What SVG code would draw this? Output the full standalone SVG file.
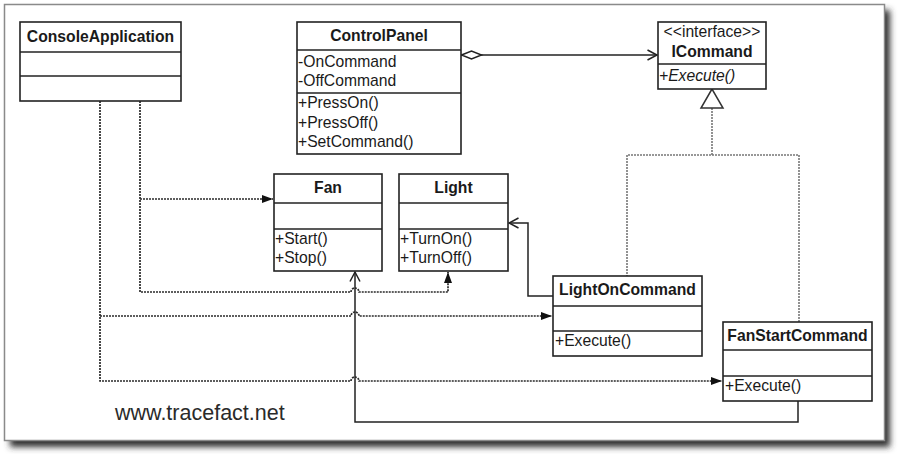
<svg xmlns="http://www.w3.org/2000/svg" width="900" height="454" viewBox="0 0 900 454">
<style>
text{font-family:"Liberation Sans",Arial,sans-serif;font-size:15.7px;fill:#1a1a1a}
.b{font-weight:bold;text-anchor:middle}
.i{font-style:italic}
.box{fill:#fff;stroke:#222;stroke-width:1.6}
.sep{stroke:#222;stroke-width:1.6}
.dep{fill:none;stroke:#2a2a2a;stroke-width:1.7;stroke-dasharray:2 1}
.real{fill:none;stroke:#777;stroke-width:1.6;stroke-dasharray:2 1}
.assoc{fill:none;stroke:#222;stroke-width:1.5}
</style>
<defs>
<filter id="sh" x="-5%" y="-5%" width="110%" height="110%"><feGaussianBlur stdDeviation="3"/></filter>
<marker id="fa" viewBox="0 0 11 8" refX="11" refY="4" markerWidth="11" markerHeight="8" markerUnits="userSpaceOnUse" orient="auto"><path d="M0,0 L11,4 L0,8 z" fill="#111"/></marker>
<marker id="oa" viewBox="0 0 10 12" refX="9.5" refY="6" markerWidth="10" markerHeight="12" markerUnits="userSpaceOnUse" orient="auto" overflow="visible"><path d="M0,1 L9.5,6 L0,11" fill="none" stroke="#222" stroke-width="1.5"/></marker>
<marker id="dm" viewBox="0 0 21 10" refX="0" refY="5" markerWidth="21" markerHeight="10" markerUnits="userSpaceOnUse" orient="auto" overflow="visible"><path d="M0.5,5 L10.5,1 L20.5,5 L10.5,9 z" fill="#fff" stroke="#222" stroke-width="1.5"/></marker>
</defs>
<rect x="10" y="10" width="880" height="437" fill="#333" filter="url(#sh)"/>
<rect x="4.5" y="4.5" width="880" height="436" fill="#fff" stroke="#8a8a8a" stroke-width="1.5"/>

<g id="connectors">
<path class="assoc" d="M461,55 H657" marker-start="url(#dm)" marker-end="url(#oa)"/>
<path class="real" d="M712,108 V155 H627 V276 M712,155 H799 V322"/>
<polygon points="712,89 701,108 723,108" fill="#fff" stroke="#333" stroke-width="1.5"/>
<path class="dep" d="M140,101 V292 H351 A4,4 0 0 1 359,292 H448 V272" marker-end="url(#fa)"/>
<path class="dep" d="M140,199 H273" marker-end="url(#fa)"/>
<path class="dep" d="M100,101 V381 H351 A4,4 0 0 1 359,381 H722" marker-end="url(#fa)"/>
<path class="dep" d="M100,316 H351 A4,4 0 0 1 359,316 H552" marker-end="url(#fa)"/>
<path class="assoc" d="M553,296 H528 V223 H509" marker-end="url(#oa)"/>
<path class="assoc" d="M798,401 V422 H355 V272" marker-end="url(#oa)"/>
</g>

<g id="ConsoleApplication">
<rect class="box" x="20" y="22" width="161" height="79"/>
<line class="sep" x1="20" y1="52" x2="181" y2="52"/>
<line class="sep" x1="20" y1="76" x2="181" y2="76"/>
<text class="b" x="100.5" y="42">ConsoleApplication</text>
</g>

<g id="ControlPanel">
<rect class="box" x="297" y="22" width="164" height="132"/>
<line class="sep" x1="297" y1="50" x2="461" y2="50"/>
<line class="sep" x1="297" y1="93" x2="461" y2="93"/>
<text class="b" x="379" y="41">ControlPanel</text>
<text x="298" y="67">-OnCommand</text>
<text x="298" y="86">-OffCommand</text>
<text x="298" y="108">+PressOn()</text>
<text x="298" y="128">+PressOff()</text>
<text x="298" y="147">+SetCommand()</text>
</g>

<g id="ICommand">
<rect class="box" x="658" y="22" width="108" height="67"/>
<line class="sep" x1="658" y1="64" x2="766" y2="64"/>
<text x="712" y="37" text-anchor="middle">&lt;&lt;interface&gt;&gt;</text>
<text class="b" x="712" y="57">ICommand</text>
<text class="i" x="659" y="81">+Execute()</text>
</g>

<g id="Fan">
<rect class="box" x="274" y="174" width="108" height="97"/>
<line class="sep" x1="274" y1="203" x2="382" y2="203"/>
<line class="sep" x1="274" y1="229" x2="382" y2="229"/>
<text class="b" x="328" y="193">Fan</text>
<text x="275" y="244">+Start()</text>
<text x="275" y="263">+Stop()</text>
</g>

<g id="Light">
<rect class="box" x="399" y="174" width="109" height="97"/>
<line class="sep" x1="399" y1="203" x2="508" y2="203"/>
<line class="sep" x1="399" y1="229" x2="508" y2="229"/>
<text class="b" x="453.5" y="193">Light</text>
<text x="400" y="244">+TurnOn()</text>
<text x="400" y="263">+TurnOff()</text>
</g>

<g id="LightOnCommand">
<rect class="box" x="553" y="276" width="149" height="80"/>
<line class="sep" x1="553" y1="306" x2="702" y2="306"/>
<line class="sep" x1="553" y1="331" x2="702" y2="331"/>
<text class="b" x="627.5" y="295">LightOnCommand</text>
<text x="555" y="346">+Execute()</text>
</g>

<g id="FanStartCommand">
<rect class="box" x="723" y="322" width="149" height="79"/>
<line class="sep" x1="723" y1="350" x2="872" y2="350"/>
<line class="sep" x1="723" y1="376" x2="872" y2="376"/>
<text class="b" x="797.5" y="341">FanStartCommand</text>
<text x="725" y="391">+Execute()</text>
</g>

<text x="115" y="420" style="font-size:21.5px;fill:#2a2a2a">www.tracefact.net</text>
</svg>
